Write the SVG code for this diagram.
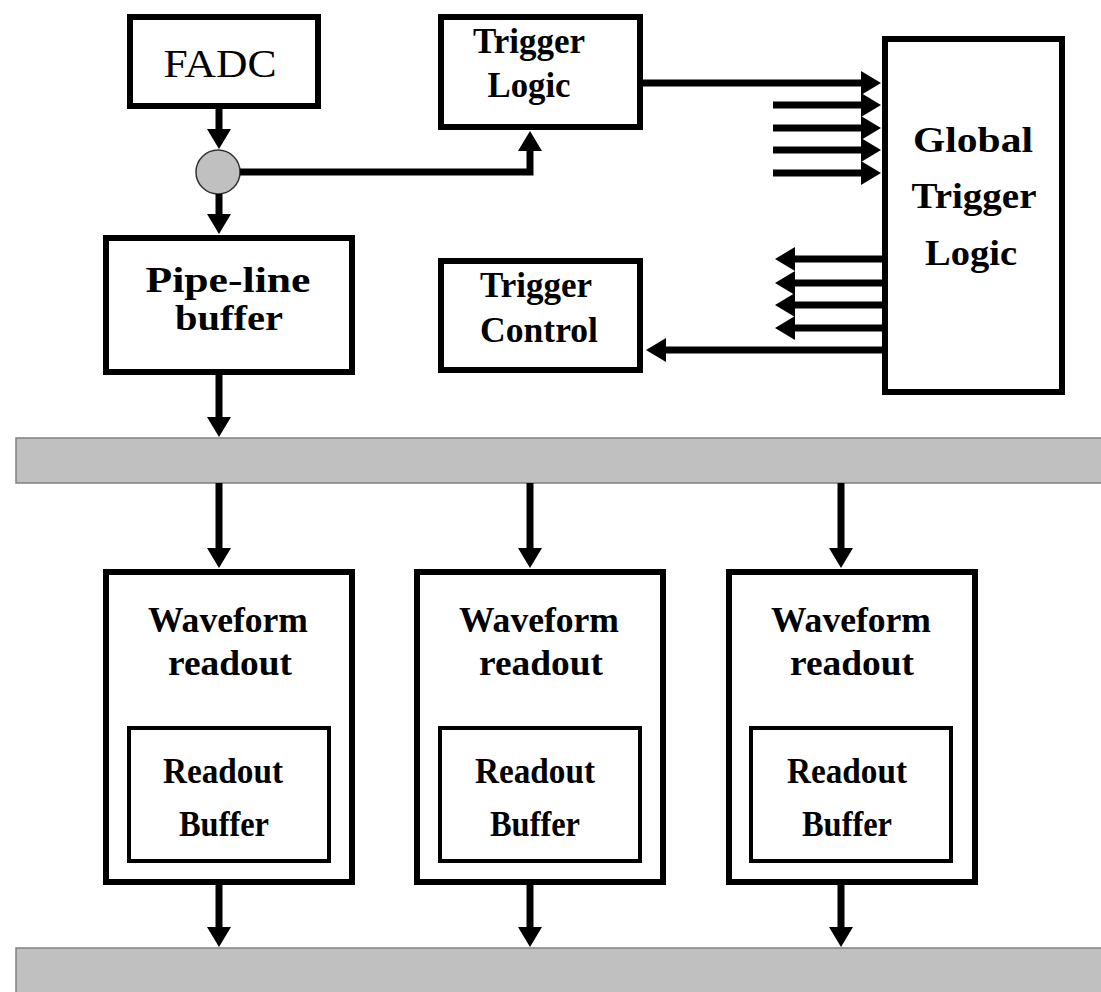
<svg xmlns="http://www.w3.org/2000/svg" width="1101" height="992" viewBox="0 0 1101 992">
<style>
.box{fill:#fff;stroke:#000;stroke-width:6}
.inner{fill:#fff;stroke:#000;stroke-width:4}
.bus{fill:#c0c0c0;stroke:#808080;stroke-width:1.5}
.t{font-family:"Liberation Serif","DejaVu Serif",serif;font-weight:bold;font-size:36px;fill:#000;text-anchor:middle}
.r{font-weight:normal;font-size:40px}
.c{fill:none;stroke:#000;stroke-width:7}
</style>
<defs>
<marker id="ah" markerUnits="userSpaceOnUse" markerWidth="20" markerHeight="24" viewBox="0 0 20 24" refX="1" refY="12" orient="auto" overflow="visible">
<path d="M0,0 L20,12 L0,24 z" fill="#000"/>
</marker>
</defs>
<rect id="bus1" class="bus" x="16" y="438" width="1090" height="45"/>
<rect id="bus2" class="bus" x="16" y="948" width="1090" height="60"/>
<g id="fadc"><rect class="box" x="130" y="17" width="188" height="89"/><text class="t r" x="220" y="77" textLength="113" lengthAdjust="spacingAndGlyphs">FADC</text></g>
<g id="trigger-logic"><rect class="box" x="441" y="17" width="199" height="110"/><text class="t" x="529" y="53" textLength="112" lengthAdjust="spacingAndGlyphs">Trigger</text><text class="t" x="529" y="97" textLength="83" lengthAdjust="spacingAndGlyphs">Logic</text></g>
<g id="splitter"><circle cx="218" cy="172" r="22" fill="#c0c0c0" stroke="#333" stroke-width="1.5"/></g>
<g id="pipeline"><rect class="box" x="106" y="238" width="246" height="134"/><text class="t" x="228" y="292" textLength="165" lengthAdjust="spacingAndGlyphs">Pipe-line</text><text class="t" x="229" y="330" textLength="108" lengthAdjust="spacingAndGlyphs">buffer</text></g>
<g id="trigger-control"><rect class="box" x="441" y="261" width="199" height="109"/><text class="t" x="536" y="297" textLength="112" lengthAdjust="spacingAndGlyphs">Trigger</text><text class="t" x="539" y="342" textLength="118" lengthAdjust="spacingAndGlyphs">Control</text></g>
<g id="global-trigger-logic"><rect class="box" x="885" y="39" width="177" height="353"/><text class="t" x="973" y="152" textLength="120" lengthAdjust="spacingAndGlyphs">Global</text><text class="t" x="974" y="208" textLength="125" lengthAdjust="spacingAndGlyphs">Trigger</text><text class="t" x="971" y="265" textLength="92" lengthAdjust="spacingAndGlyphs">Logic</text></g>
<g id="waveform-1"><rect class="box" x="106" y="572" width="246" height="310"/><text class="t" x="228" y="632" textLength="160" lengthAdjust="spacingAndGlyphs">Waveform</text><text class="t" x="230" y="675" textLength="124" lengthAdjust="spacingAndGlyphs">readout</text>
<g id="readout-buffer-1"><rect class="inner" x="129" y="728" width="200" height="133"/><text class="t" x="223" y="783" textLength="120" lengthAdjust="spacingAndGlyphs">Readout</text><text class="t" x="224" y="836" textLength="90" lengthAdjust="spacingAndGlyphs">Buffer</text></g></g>
<g id="waveform-2"><rect class="box" x="417" y="572" width="246" height="310"/><text class="t" x="539" y="632" textLength="160" lengthAdjust="spacingAndGlyphs">Waveform</text><text class="t" x="541" y="675" textLength="124" lengthAdjust="spacingAndGlyphs">readout</text>
<g id="readout-buffer-2"><rect class="inner" x="440" y="728" width="200" height="133"/><text class="t" x="535" y="783" textLength="120" lengthAdjust="spacingAndGlyphs">Readout</text><text class="t" x="535" y="836" textLength="90" lengthAdjust="spacingAndGlyphs">Buffer</text></g></g>
<g id="waveform-3"><rect class="box" x="729" y="572" width="246" height="310"/><text class="t" x="851" y="632" textLength="160" lengthAdjust="spacingAndGlyphs">Waveform</text><text class="t" x="852" y="675" textLength="124" lengthAdjust="spacingAndGlyphs">readout</text>
<g id="readout-buffer-3"><rect class="inner" x="751" y="728" width="200" height="133"/><text class="t" x="847" y="783" textLength="120" lengthAdjust="spacingAndGlyphs">Readout</text><text class="t" x="847" y="836" textLength="90" lengthAdjust="spacingAndGlyphs">Buffer</text></g></g>
<g id="connectors" class="c">
<path class="c" d="M219,109 V130" marker-end="url(#ah)"/>
<path class="c" d="M219,194 V215" marker-end="url(#ah)"/>
<path class="c" d="M240,172 H530 V150" marker-end="url(#ah)"/>
<path class="c" d="M219,375 V418" marker-end="url(#ah)"/>
<path class="c" d="M219,483 V549" marker-end="url(#ah)"/>
<path class="c" d="M530,483 V549" marker-end="url(#ah)"/>
<path class="c" d="M841,483 V549" marker-end="url(#ah)"/>
<path class="c" d="M219,885 V928" marker-end="url(#ah)"/>
<path class="c" d="M530,885 V928" marker-end="url(#ah)"/>
<path class="c" d="M841,885 V928" marker-end="url(#ah)"/>
<path class="c" d="M643,83 H862" marker-end="url(#ah)"/>
<path class="c" d="M773,105 H862" marker-end="url(#ah)"/>
<path class="c" d="M773,128 H862" marker-end="url(#ah)"/>
<path class="c" d="M773,150 H862" marker-end="url(#ah)"/>
<path class="c" d="M773,173 H862" marker-end="url(#ah)"/>
<path class="c" d="M882,259 H794" marker-end="url(#ah)"/>
<path class="c" d="M882,283 H794" marker-end="url(#ah)"/>
<path class="c" d="M882,305 H794" marker-end="url(#ah)"/>
<path class="c" d="M882,328 H794" marker-end="url(#ah)"/>
<path class="c" d="M882,350 H665" marker-end="url(#ah)"/>
</g>
</svg>
